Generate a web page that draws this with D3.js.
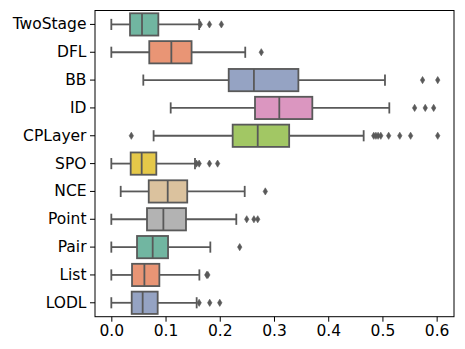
<!DOCTYPE html>
<html>
<head>
<meta charset="utf-8">
<script src="https://cdn.jsdelivr.net/npm/d3@7"></script>
<style>
  html, body { margin: 0; padding: 0; background: #fff; }
  svg { display: block; }
  text { font-family: "DejaVu Sans", sans-serif; fill: #000; }
</style>
</head>
<body>
<svg id="chart" width="465" height="349"></svg>
<script>
const categories = ["TwoStage", "DFL", "BB", "ID", "CPLayer", "SPO", "NCE", "Point", "Pair", "List", "LODL"];
const whiskerLow  = [0.000, 0.000, 0.059, 0.1095, 0.078, 0.000, 0.0173, 0.000, 0.000, 0.000, 0.000];
const q1          = [0.0345, 0.070, 0.2165, 0.265, 0.2238, 0.0357, 0.069, 0.0658, 0.0474, 0.0382, 0.0376];
const medians     = [0.0566, 0.1107, 0.263, 0.3098, 0.270, 0.056, 0.104, 0.096, 0.0763, 0.061, 0.0578];
const q3          = [0.0867, 0.148, 0.345, 0.3707, 0.328, 0.083, 0.140, 0.1377, 0.1046, 0.0886, 0.0855];
const whiskerHigh = [0.162, 0.247, 0.5047, 0.5127, 0.4654, 0.1543, 0.246, 0.2305, 0.1826, 0.1624, 0.1574];
const outliers = [
  [0.164, 0.181, 0.203],
  [0.2766],
  [0.574, 0.602],
  [0.5594, 0.579, 0.5945],
  [0.0369, 0.484, 0.488, 0.492, 0.497, 0.5115, 0.532, 0.552, 0.602],
  [0.157, 0.162, 0.181, 0.196],
  [0.284],
  [0.2497, 0.263, 0.270],
  [0.2368],
  [0.176, 0.178],
  [0.162, 0.1815, 0.200]
];
const xTicks = [0.0, 0.1, 0.2, 0.3, 0.4, 0.5, 0.6];
const colors = ["#71b6a1", "#e99575", "#95a3c3", "#db96c0", "#a2c764", "#e5c849", "#dbc29e", "#b3b3b3", "#71b6a1", "#e99575", "#95a3c3"];

const margin = {left: 95, right: 11, top: 10.5, bottom: 32.3};
const W = 465, H = 349;
const svg = d3.select("#chart");
const gray = "#595959";
const lw = 1.8;

const x = d3.scaleLinear().domain([-0.0301, 0.632]).range([margin.left, W - margin.right]);
const y = d3.scaleBand().domain(categories).range([margin.top, H - margin.bottom]).padding(0);

const boxH = y.bandwidth() * 0.8;
const capH = boxH / 2;

const rows = categories.map((c, i) => ({
  c, i, lo: whiskerLow[i], q1: q1[i], med: medians[i], q3: q3[i], hi: whiskerHigh[i], out: outliers[i], color: colors[i]
}));

const g = svg.append("g");
const row = g.selectAll("g.row").data(rows).join("g").attr("class", "row")
  .attr("transform", d => `translate(0,${y(d.c) + y.bandwidth() / 2})`);

// whiskers
row.append("line").attr("x1", d => x(d.lo)).attr("x2", d => x(d.q1)).attr("y1", 0).attr("y2", 0)
  .attr("stroke", gray).attr("stroke-width", lw);
row.append("line").attr("x1", d => x(d.q3)).attr("x2", d => x(d.hi)).attr("y1", 0).attr("y2", 0)
  .attr("stroke", gray).attr("stroke-width", lw);
// caps
row.append("line").attr("x1", d => x(d.lo)).attr("x2", d => x(d.lo)).attr("y1", -capH / 2).attr("y2", capH / 2)
  .attr("stroke", gray).attr("stroke-width", lw);
row.append("line").attr("x1", d => x(d.hi)).attr("x2", d => x(d.hi)).attr("y1", -capH / 2).attr("y2", capH / 2)
  .attr("stroke", gray).attr("stroke-width", lw);
// box
row.append("rect").attr("x", d => x(d.q1)).attr("width", d => x(d.q3) - x(d.q1))
  .attr("y", -boxH / 2).attr("height", boxH)
  .attr("fill", d => d.color).attr("stroke", gray).attr("stroke-width", lw);
// median
row.append("line").attr("x1", d => x(d.med)).attr("x2", d => x(d.med)).attr("y1", -boxH / 2).attr("y2", boxH / 2)
  .attr("stroke", gray).attr("stroke-width", lw);
// outliers (thin diamonds)
const dh = 3.6, dw = 2.2;
row.selectAll("path.out").data(d => d.out).join("path").attr("class", "out")
  .attr("d", v => `M${x(v)},${-dh} L${x(v) + dw},0 L${x(v)},${dh} L${x(v) - dw},0 Z`)
  .attr("fill", gray).attr("stroke", gray).attr("stroke-width", 0.6);

// frame
svg.append("rect").attr("x", margin.left).attr("y", margin.top)
  .attr("width", W - margin.left - margin.right).attr("height", H - margin.top - margin.bottom)
  .attr("fill", "none").attr("stroke", "#000").attr("stroke-width", 1);

// x axis
const xAxis = d3.axisBottom(x).tickValues(xTicks).tickFormat(d3.format(".1f")).tickSize(5).tickPadding(3.3);
const xg = svg.append("g").attr("transform", `translate(0,${H - margin.bottom})`).call(xAxis);
xg.select(".domain").remove();
xg.selectAll("text").style("font-family", "DejaVu Sans").style("font-size", "15.5px").attr("fill", "#000");
xg.selectAll("line").attr("stroke", "#000");

// y axis
const yAxis = d3.axisLeft(y).tickSize(5).tickPadding(3.5);
const yg = svg.append("g").attr("transform", `translate(${margin.left},0)`).call(yAxis);
yg.select(".domain").remove();
yg.selectAll("text").style("font-family", "DejaVu Sans").style("font-size", "15.5px").attr("fill", "#000");
yg.selectAll("line").attr("stroke", "#000");
</script>
</body>
</html>
